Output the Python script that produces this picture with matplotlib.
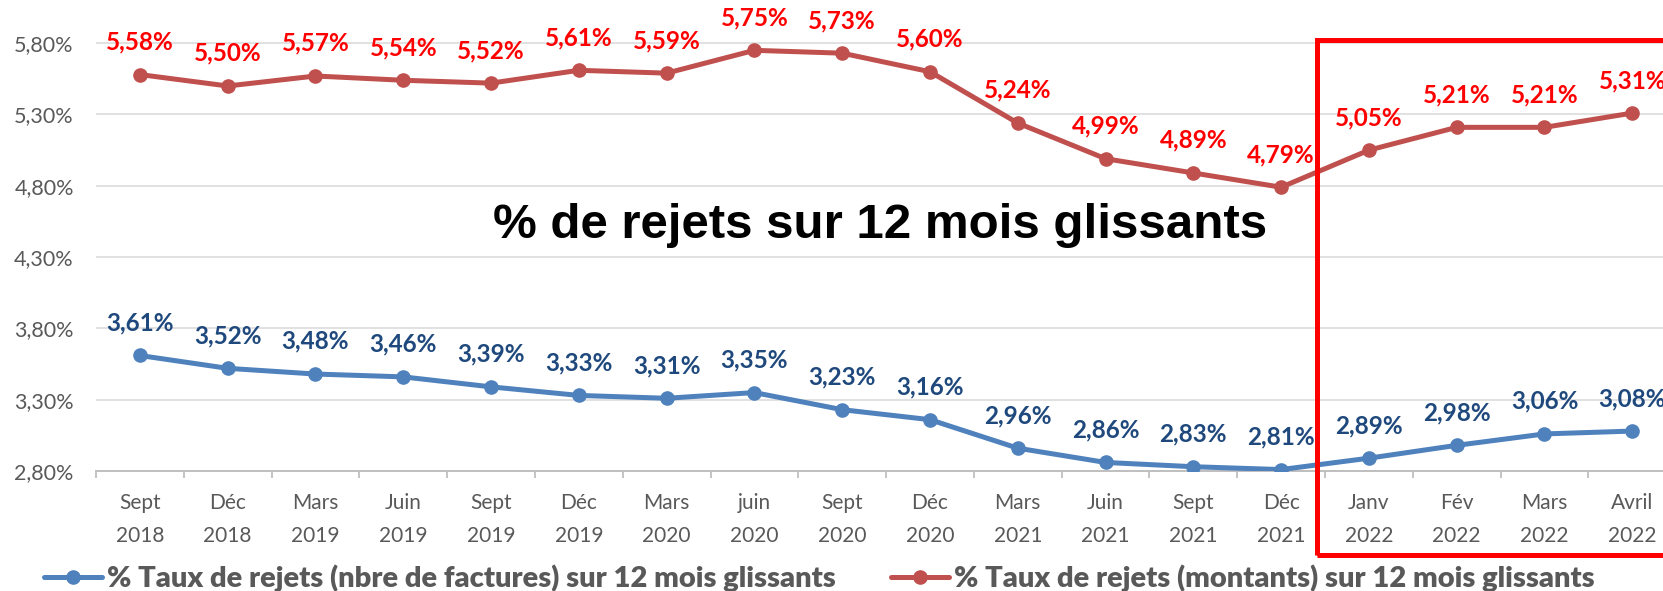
#!/usr/bin/env python3
"""Taux de rejets sur 12 mois glissants - courbes rouge (montants) et bleue (factures)"""

import matplotlib
matplotlib.use("Agg")
import matplotlib.pyplot as plt
from matplotlib.patches import Rectangle
from matplotlib.ticker import FixedLocator

plt.rcParams['font.family'] = ['Lato', 'DejaVu Sans']

# Data
periods = ["Sept\n2018", "Déc\n2018", "Mars\n2019", "Juin\n2019", "Sept\n2019", "Déc\n2019",
           "Mars\n2020", "juin\n2020", "Sept\n2020", "Déc\n2020", "Mars\n2021", "Juin\n2021",
           "Sept\n2021", "Déc\n2021", "Janv\n2022", "Fév\n2022", "Mars\n2022", "Avril\n2022"]
taux_montants = [5.58, 5.50, 5.57, 5.54, 5.52, 5.61, 5.59, 5.75, 5.73, 5.60, 5.24, 4.99,
                 4.89, 4.79, 5.05, 5.21, 5.21, 5.31]
taux_factures = [3.61, 3.52, 3.48, 3.46, 3.39, 3.33, 3.31, 3.35, 3.23, 3.16, 2.96, 2.86,
                 2.83, 2.81, 2.89, 2.98, 3.06, 3.08]
y_ticks = [2.80, 3.30, 3.80, 4.30, 4.80, 5.30, 5.80]

label_montants = "% Taux de rejets (montants) sur 12 mois glissants"
label_factures = "% Taux de rejets (nbre de factures) sur 12 mois glissants"
title = "% de rejets sur 12 mois glissants"

RED_LINE = '#C0504D'
BLUE_LINE = '#4F81BD'
RED_TXT = '#FF0000'
BLUE_TXT = '#1F497D'
GRAY_TXT = '#595959'

W, H = 1663, 591
fig = plt.figure(figsize=(W / 100, H / 100), dpi=100)
ax = fig.add_axes([96 / W, (H - 471) / H, 1 - 96 / W, 471 / H])

x = list(range(len(periods)))
l_fact, = ax.plot(x, taux_factures, color=BLUE_LINE, lw=3.6, marker='o', ms=9.5,
                  label=label_factures, zorder=3, solid_capstyle='round')
l_mont, = ax.plot(x, taux_montants, color=RED_LINE, lw=3.6, marker='o', ms=9.5,
                  label=label_montants, zorder=3, solid_capstyle='round')

for xi, v in zip(x, taux_montants):
    ax.annotate(f"{v:.2f}%".replace('.', ','), (xi, v), xytext=(0, 23.5),
                textcoords='offset points', ha='center', va='center',
                fontsize=17.5, fontweight='bold', color=RED_TXT, zorder=4)
for xi, v in zip(x, taux_factures):
    ax.annotate(f"{v:.2f}%".replace('.', ','), (xi, v), xytext=(0, 23.5),
                textcoords='offset points', ha='center', va='center',
                fontsize=17.5, fontweight='bold', color=BLUE_TXT, zorder=4)

ax.set_xlim(-0.5, 17.35)
ax.set_ylim(2.80, 2.80 + 471 / 142.6)

ax.set_yticks(y_ticks)
ax.set_yticklabels([f"{t:.2f}%".replace('.', ',') for t in y_ticks])
ax.tick_params(axis='y', length=0, pad=16, labelsize=15.5, labelcolor=GRAY_TXT)

ax.set_xticks(x)
ax.set_xticklabels(periods, linespacing=1.8)
ax.xaxis.set_minor_locator(FixedLocator([i - 0.5 for i in range(len(periods) + 1)]))
ax.tick_params(axis='x', which='major', length=0, pad=16, labelsize=15, labelcolor=GRAY_TXT)
ax.tick_params(axis='x', which='minor', length=5, width=1.3, color='#BFBFBF')

ax.grid(axis='y', color='#D9D9D9', lw=1.1, zorder=0)
for s in ['top', 'right', 'left']:
    ax.spines[s].set_visible(False)
ax.spines['bottom'].set_color('#BFBFBF')
ax.spines['bottom'].set_linewidth(1.4)

fig.text(880 / W, (H - 226) / H, title, fontsize=35.5, fontweight='bold',
         family='Liberation Sans', ha='center', va='center', color='black')

# Red frame around 2022
fig.add_artist(Rectangle((1317 / W, (H - 555) / H), 0.5, (555 - 40) / H,
                         transform=fig.transFigure, fill=False, ec='red', lw=3.6, zorder=5))

fig.legend(handles=[l_fact, l_mont], ncol=2, loc='center left',
           bbox_to_anchor=(44 / W, (H - 578) / H), frameon=False,
           prop={'family': 'Lato', 'weight': 'heavy', 'size': 21},
           labelcolor=GRAY_TXT, handlelength=2.0, handletextpad=0.15,
           columnspacing=1.9, borderaxespad=0, borderpad=0)

plt.savefig('out.png', dpi=100)
